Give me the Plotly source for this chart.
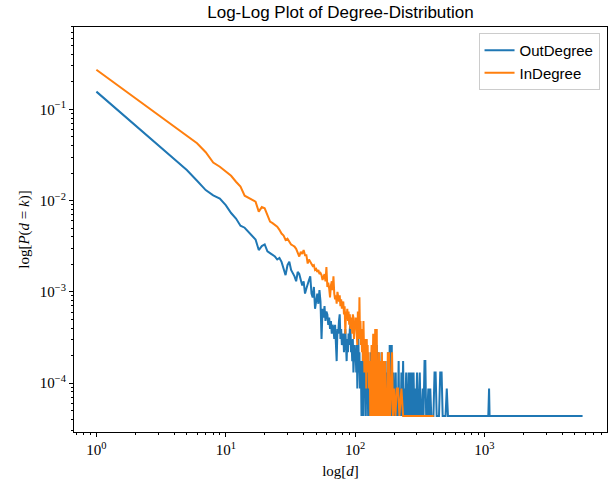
import plotly.graph_objects as go

N_NODES = 23000

# OutDegree: contiguous degrees 1..100 counts
out_dense_counts = [
    3600, 1530, 935, 655, 497, 380, 300, 262, 242, 205,
    168, 146, 122, 116, 104, 93, 86, 66, 73, 76,
    64, 61, 58, 56, 52, 54, 49, 41, 35, 45,
    49, 40, 37, 34, 30, 38, 36, 31, 27, 30,
    22, 25, 29, 31, 34, 22, 20, 26, 15, 19,
    22, 17, 24, 18, 7, 15, 12, 16, 11, 14,
    13, 10, 12, 9, 11, 8, 10, 9, 7, 10,
    6, 4, 9, 8, 11, 13, 7, 9, 6, 8,
    8, 5, 7, 9, 6, 4, 7, 5, 8, 6,
    9, 10, 5, 6, 4, 7, 3, 5, 6, 4,
]
out_sparse_deg = [
    101, 102, 103, 104, 105, 106, 107, 108, 109, 110, 111, 112, 113, 114, 115,
    116, 117, 118, 119, 120, 121, 122, 123, 124, 125, 126, 127, 128, 129, 130,
    131, 132, 133, 134, 135, 136, 137, 138, 139, 140, 141, 142, 143, 144, 145,
    146, 147, 148, 149, 150, 151, 152, 153, 154, 155, 156, 157, 158, 159, 160,
    161, 162, 163, 164, 165, 166, 167, 168, 169, 170, 172, 173, 174, 175, 176,
    178, 179, 180, 181, 183, 184, 185, 187, 188, 190, 191, 192, 193, 195, 196,
    198, 199,
    201, 203, 206, 208, 211, 214, 217, 219, 222, 225, 228, 231, 235, 238, 241,
    244, 248, 252, 256, 259, 262, 266, 270, 274, 278, 283, 287, 292, 296, 301,
    306, 311, 316, 321, 327, 333, 338, 344, 349, 354, 361, 368, 374, 381, 388,
    395, 403, 411, 419, 427, 436, 445, 455, 466, 475, 488, 500, 511, 522, 535,
    548,
    560, 590, 620, 660, 700, 750, 810, 880, 950, 1020, 1070, 1085, 1095, 1200,
    1400, 1700, 2100, 2700, 3500, 5730,
]
out_sparse_cnt = [
    5, 3, 6, 2, 4, 7, 3, 5, 2, 4, 3, 1, 4, 3, 5,
    1, 3, 2, 2, 4, 1, 3, 5, 2, 3, 1, 4, 2, 3, 1,
    2, 5, 3, 1, 2, 4, 1, 3, 2, 6, 1, 2, 3, 1, 4,
    2, 6, 3, 2, 1, 5, 2, 1, 3, 2, 1, 4, 1, 2, 5,
    1, 3, 2, 1, 4, 1, 2, 3, 1, 2, 4, 1, 2, 3, 1,
    2, 1, 5, 1, 3, 1, 6, 5, 1, 6, 1, 6, 1, 2, 1,
    3, 1,
    2, 1, 3, 1, 2, 1, 4, 1, 2, 1, 3, 1, 4, 1, 2,
    1, 3, 1, 1, 3, 1, 3, 1, 3, 1, 3, 1, 2, 1, 3,
    1, 1, 3, 1, 1, 2, 1, 4, 4, 1, 1, 2, 1, 2, 1,
    1, 1, 3, 3, 1, 1, 1, 3, 3, 1, 1, 1, 2, 1, 1,
    1,
    1, 1, 1, 1, 1, 1, 1, 1, 1, 1, 1, 2, 1, 1,
    1, 1, 1, 1, 1, 1,
]

# InDegree: contiguous degrees 1..130 counts
in_dense_counts = [
    6260, 3050, 2003, 1487, 1181, 979, 780, 600, 540, 480,
    430, 370, 327, 260, 245, 232, 224, 174, 195, 189,
    160, 135, 130, 125, 119, 110, 100, 95, 85, 88,
    80, 76, 74, 72, 68, 62, 56, 63, 60, 66,
    58, 58, 47, 52, 49, 47, 44, 45, 40, 41,
    38, 40, 36, 37, 35, 31, 34, 36, 30, 43,
    26, 29, 25, 20, 27, 30, 24, 34, 22, 19,
    21, 17, 23, 20, 18, 21, 16, 19, 15, 17,
    18, 13, 16, 8, 14, 12, 15, 11, 14, 10,
    13, 9, 12, 11, 8, 13, 12, 7, 10, 9,
    12, 8, 9, 6, 14, 10, 7, 20, 8, 11,
    6, 9, 5, 8, 4, 11, 6, 3, 7, 5,
    7, 2, 7, 4, 6, 3, 5, 2, 4, 3,
]
in_sparse_deg = [
    131, 132, 133, 134, 135, 136, 137, 138, 139, 140, 141, 143, 144, 145, 146,
    147, 148, 150, 151, 153, 154, 156, 158, 159, 161, 162, 164, 166, 168, 170,
    172, 174, 176, 179, 181, 183, 186, 190, 193, 196, 200, 205, 210, 215, 220,
    228, 235, 245, 258, 272, 290, 310, 340, 370, 405,
]
in_sparse_cnt = [
    1, 4, 2, 6, 1, 3, 2, 8, 1, 5, 2, 9, 1, 4, 2,
    9, 1, 3, 1, 5, 2, 1, 4, 1, 5, 2, 1, 4, 1, 4,
    1, 2, 1, 5, 1, 5, 1, 2, 5, 1, 2, 1, 2, 2, 1,
    2, 1, 1, 1, 1, 1, 1, 1, 1, 1,
]

x_tick_vals = [1, 10, 100, 1000]
x_tick_text = ["10<sup>0</sup>", "10<sup>1</sup>", "10<sup>2</sup>", "10<sup>3</sup>"]
y_tick_vals = [1e-4, 1e-3, 1e-2, 1e-1]
y_tick_text = ["10<sup>−4</sup>", "10<sup>−3</sup>", "10<sup>−2</sup>", "10<sup>−1</sup>"]

out_deg = list(range(1, len(out_dense_counts) + 1)) + out_sparse_deg
out_p = [c / N_NODES for c in out_dense_counts + out_sparse_cnt]
in_deg = list(range(1, len(in_dense_counts) + 1)) + in_sparse_deg
in_p = [c / N_NODES for c in in_dense_counts + in_sparse_cnt]

fig = go.Figure()
fig.add_trace(go.Scatter(x=out_deg, y=out_p, mode="lines", name="OutDegree",
                         line=dict(color="#1f77b4", width=2)))
fig.add_trace(go.Scatter(x=in_deg, y=in_p, mode="lines", name="InDegree",
                         line=dict(color="#ff7f0e", width=2)))

serif = "Liberation Serif"
axis_common = dict(
    showline=True, linecolor="black", linewidth=1, mirror=True,
    showgrid=False, zeroline=False, automargin=False,
    ticks="outside", ticklen=4, tickwidth=1, tickcolor="black",
    tickfont=dict(family=serif, size=15, color="black"),
    minor=dict(dtick="D1", ticks="outside", ticklen=2, tickwidth=1,
               tickcolor="black", showgrid=False),
)

fig.update_layout(
    width=610, height=484,
    margin=dict(l=74, r=3, t=27, b=52),
    paper_bgcolor="white", plot_bgcolor="white",
    title=dict(text="Log-Log Plot of Degree-Distribution", x=0.5, xanchor="center",
               xref="paper", y=1 - 12 / 484, yref="container", yanchor="middle",
               font=dict(family="Liberation Sans", size=17, color="black"),
               automargin=False),
    xaxis=dict(type="log", range=[-0.173, 3.947], tickmode="array",
               tickvals=x_tick_vals, ticktext=x_tick_text,
               title=dict(text="log[<i>d</i>]", font=dict(family=serif, size=15, color="black"),
                          standoff=8),
               **axis_common),
    yaxis=dict(type="log", range=[-4.537, -0.097], tickmode="array",
               tickvals=y_tick_vals, ticktext=y_tick_text,
               title=dict(text="log[<i>P</i>(<i>d</i> = <i>k</i>)]",
                          font=dict(family=serif, size=15, color="black"), standoff=6),
               **axis_common),
    legend=dict(x=0.986, xanchor="right", y=0.985, yanchor="top",
                bgcolor="rgba(255,255,255,0.8)", bordercolor="#cccccc", borderwidth=1,
                font=dict(family="Liberation Sans", size=15, color="black"),
                itemwidth=30),
    showlegend=True,
)

fig.write_html("out.html", config={"displayModeBar": False},
               post_script="document.body.style.margin='0';")
